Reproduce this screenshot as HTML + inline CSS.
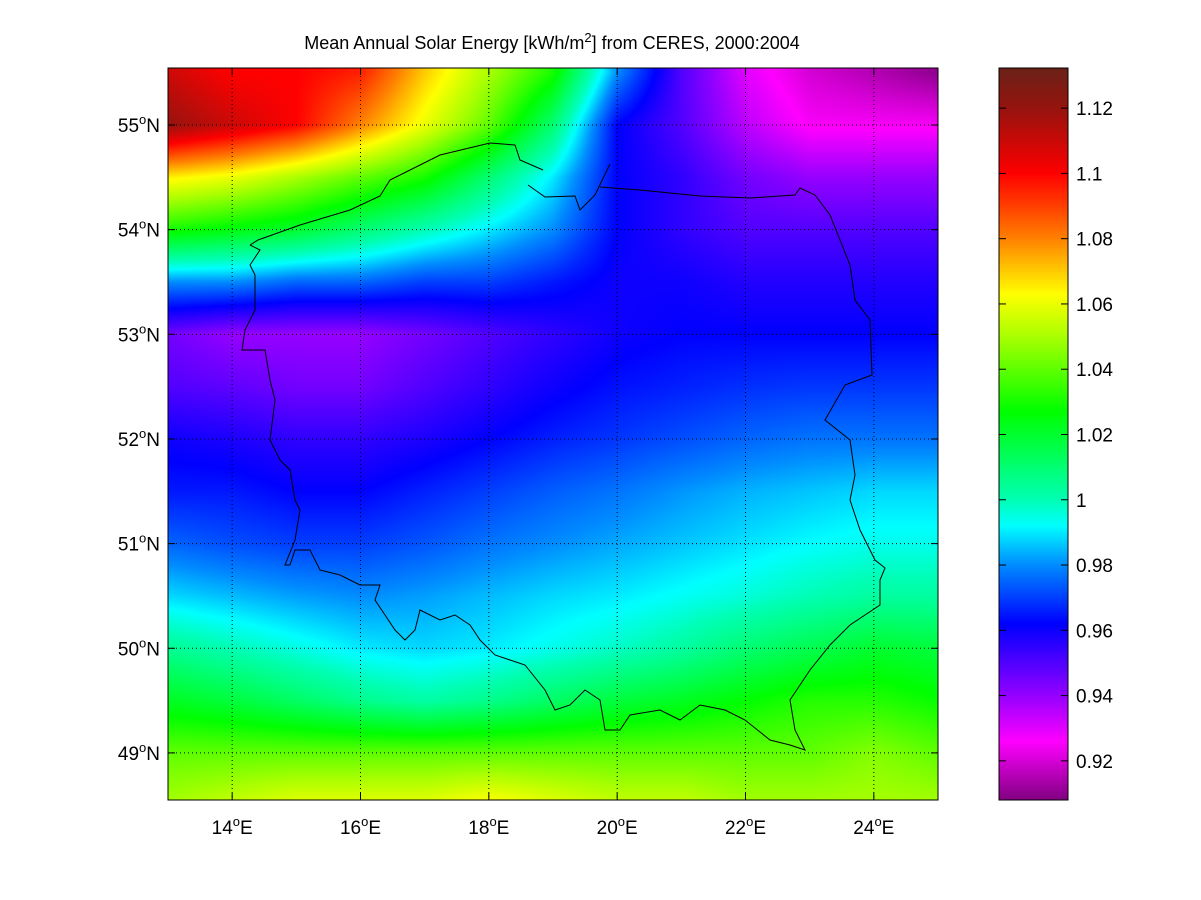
<!DOCTYPE html>
<html><head><meta charset="utf-8">
<style>
body{margin:0;background:#fff;width:1201px;height:900px;overflow:hidden;font-family:"Liberation Sans",sans-serif;}
#wrap{position:relative;width:1201px;height:900px;}
canvas{position:absolute;}
svg{position:absolute;left:0;top:0;}
text{font-family:"Liberation Sans",sans-serif;fill:#000;}
</style></head>
<body>
<div id="wrap">
<canvas id="map" width="770" height="732" style="left:168px;top:68px"></canvas>
<canvas id="cbar" width="69" height="732" style="left:999px;top:68px"></canvas>
<svg id="ov" width="1201" height="900"></svg>
</div>
<script>
const lons=[13,14,15,16,17,18,19,20,21,22,23,24,25];
const lats=[55.5,55,54.5,54,53.5,53,52.5,52,51.5,51,50.5,50,49.5,49,48.5];
const values=[
[1.11,1.10,1.10,1.095,1.07,1.05,1.03,0.98,0.95,0.93,0.92,0.915,0.91],
[1.12,1.11,1.10,1.08,1.06,1.04,1.01,0.962,0.95,0.935,0.925,0.925,0.925],
[1.065,1.06,1.05,1.04,1.03,1.01,0.99,0.962,0.955,0.945,0.94,0.94,0.94],
[1.03,1.025,1.02,1.01,1.0,0.99,0.98,0.962,0.955,0.95,0.95,0.95,0.95],
[0.98,0.98,0.975,0.975,0.97,0.97,0.965,0.96,0.96,0.957,0.957,0.957,0.957],
[0.945,0.94,0.94,0.94,0.945,0.95,0.955,0.96,0.962,0.962,0.962,0.962,0.962],
[0.95,0.948,0.945,0.945,0.95,0.955,0.96,0.964,0.966,0.968,0.969,0.969,0.969],
[0.96,0.958,0.955,0.955,0.958,0.962,0.966,0.969,0.972,0.975,0.977,0.977,0.977],
[0.965,0.965,0.962,0.962,0.966,0.97,0.974,0.977,0.981,0.984,0.986,0.988,0.988],
[0.975,0.972,0.97,0.97,0.973,0.977,0.98,0.983,0.986,0.989,0.992,0.994,0.994],
[0.988,0.985,0.982,0.98,0.982,0.985,0.988,0.99,0.993,0.996,1.0,1.003,1.003],
[1.005,1.0,0.995,0.99,0.988,0.99,0.994,0.998,1.003,1.01,1.015,1.02,1.018],
[1.022,1.018,1.012,1.006,1.002,1.006,1.012,1.018,1.022,1.027,1.032,1.032,1.028],
[1.04,1.04,1.04,1.04,1.04,1.04,1.04,1.04,1.04,1.04,1.04,1.045,1.04],
[1.05,1.055,1.06,1.06,1.06,1.065,1.06,1.055,1.055,1.05,1.05,1.05,1.05]];
const cbTicks=[0.92,0.94,0.96,0.98,1,1.02,1.04,1.06,1.08,1.1,1.12];
const lonTicks=[14,16,18,20,22,24];
const latTicks=[49,50,51,52,53,54,55];
const stops=[[0.908,130,0,130],[0.926,255,0,255],[0.94,150,0,255],[0.962,0,0,255],[0.98,0,140,255],[0.992,0,255,255],[1.0,0,255,180],[1.027,0,255,0],[1.05,170,255,0],[1.063,255,255,0],[1.08,255,130,0],[1.10,255,0,0],[1.12,150,20,15],[1.133,105,35,25]];
const X0=168,X1=938,Y0=68,Y1=800,LON0=13,LON1=25,LAT1=55.545,LAT0=48.55;
const VMIN=0.908,VMAX=1.1323;
const xs=l=>X0+(l-LON0)/(LON1-LON0)*(X1-X0);
const ys=a=>Y0+(LAT1-a)/(LAT1-LAT0)*(Y1-Y0);
function cmap(v){
  if(v<=stops[0][0])return stops[0].slice(1);
  for(let i=1;i<stops.length;i++){if(v<=stops[i][0]){const a=stops[i-1],b=stops[i],t=(v-a[0])/(b[0]-a[0]);return [a[1]+t*(b[1]-a[1]),a[2]+t*(b[2]-a[2]),a[3]+t*(b[3]-a[3])];}}
  return stops[stops.length-1].slice(1);
}
function sample(lon,lat){
  let fi=(lon-lons[0])/(lons[1]-lons[0]);fi=Math.max(0,Math.min(lons.length-1.0001,fi));
  let fj=(lats[0]-lat)/(lats[0]-lats[1]);fj=Math.max(0,Math.min(lats.length-1.0001,fj));
  const i=Math.floor(fi),j=Math.floor(fj),u=fi-i,w=fj-j;
  const a=values[j][i],b=values[j][i+1],c=values[j+1][i],d=values[j+1][i+1];
  return (a*(1-u)+b*u)*(1-w)+(c*(1-u)+d*u)*w;
}
(function(){
  const cv=document.getElementById('map'),ctx=cv.getContext('2d'),W=cv.width,H=cv.height;
  const img=ctx.createImageData(W,H);
  for(let y=0;y<H;y++){const lat=LAT1-(y+0.5)/H*(LAT1-LAT0);
    for(let x=0;x<W;x++){const lon=LON0+(x+0.5)/W*(LON1-LON0);
      const c=cmap(sample(lon,lat)),k=(y*W+x)*4;img.data[k]=c[0];img.data[k+1]=c[1];img.data[k+2]=c[2];img.data[k+3]=255;}}
  ctx.putImageData(img,0,0);
  const cb=document.getElementById('cbar'),cc=cb.getContext('2d');
  for(let y=0;y<cb.height;y++){const v=VMAX-(y+0.5)/cb.height*(VMAX-VMIN);const c=cmap(v);cc.fillStyle=`rgb(${c[0]|0},${c[1]|0},${c[2]|0})`;cc.fillRect(0,y,cb.width,1);}
})();
const NS='http://www.w3.org/2000/svg',ov=document.getElementById('ov');
function mk(t,attrs,txt){const e=document.createElementNS(NS,t);for(const k in attrs)e.setAttribute(k,attrs[k]);if(txt!==undefined)e.textContent=txt;ov.appendChild(e);return e;}
const outline=mk('path',{d:"M250,245 L258,240 L300,225 L350,210 L380,196 L390,180 L440,155 L490,143 L515,145 L520,160 L543,170 M528,185 L545,197 L575,196 L580,210 L595,195 L610,164 M600,187 L640,190 L700,196 L750,198 L795,195 L800,188 L815,195 L830,215 L840,240 L850,265 L855,300 L870,320 L872,375 L845,385 L825,420 L850,440 L855,475 L850,500 L860,530 L875,560 L885,568 L880,580 L880,605 L850,625 L830,645 L810,670 L790,700 L795,730 L805,750 L790,745 L770,740 L745,720 L725,710 L700,705 L680,720 L660,710 L630,715 L620,730 L605,730 L600,700 L585,690 L570,705 L555,710 L545,690 L525,665 L495,655 L480,640 L470,625 L455,615 L440,620 L420,610 L415,630 L405,640 L395,630 L385,615 L375,600 L380,585 L360,585 L340,575 L320,570 L310,550 L295,550 L290,565 L285,565 L295,540 L300,510 L295,500 L290,470 L280,460 L270,440 L275,400 L270,380 L265,350 L242,350 L245,330 L255,310 L255,275 L250,265 L260,250 L250,245",fill:"none",stroke:"#000","stroke-width":"1"});


lonTicks.forEach(l=>{const x=xs(l);
  const g=mk('line',{x1:x,y1:Y0,x2:x,y2:Y1,stroke:"#000","stroke-dasharray":"1,3","stroke-width":"1"});
  
  
  mk('line',{x1:x,y1:Y1,x2:x,y2:Y1-7,stroke:"#000"});mk('line',{x1:x,y1:Y0,x2:x,y2:Y0+7,stroke:"#000"});
  const t=mk('text',{x:x,y:834,"font-size":"19","text-anchor":"middle"});
  t.innerHTML=l+'<tspan dy="-8" font-size="13">o</tspan><tspan dy="8">E</tspan>';
  
  
});
latTicks.forEach(a=>{const y=ys(a);
  const g=mk('line',{x1:X0,y1:y,x2:X1,y2:y,stroke:"#000","stroke-dasharray":"1,3","stroke-width":"1"});
  
  
  mk('line',{x1:X0,y1:y,x2:X0+7,y2:y,stroke:"#000"});mk('line',{x1:X1,y1:y,x2:X1-7,y2:y,stroke:"#000"});
  const t=mk('text',{x:160,y:y+7,"font-size":"19","text-anchor":"end"});
  t.innerHTML=a+'<tspan dy="-8" font-size="13">o</tspan><tspan dy="8">N</tspan>';
  
  
});
mk('rect',{x:X0,y:Y0,width:X1-X0,height:Y1-Y0,fill:"none",stroke:"#000"});
const cbY=v=>Y0+(VMAX-v)/(VMAX-VMIN)*(Y1-Y0);
cbTicks.forEach(v=>{const y=cbY(v);
  mk('line',{x1:999,y1:y,x2:1006,y2:y,stroke:"#000"});mk('line',{x1:1068,y1:y,x2:1061,y2:y,stroke:"#000"});
  const t=mk('text',{x:1076,y:y+7,"font-size":"19"},String(v));
  
  
});
mk('rect',{x:999,y:Y0,width:69,height:Y1-Y0,fill:"none",stroke:"#000"});
const title=mk('text',{x:552,y:49,"font-size":"18","text-anchor":"middle"});
title.innerHTML='Mean Annual Solar Energy [kWh/m<tspan dy="-7" font-size="13">2</tspan><tspan dy="7">] from CERES, 2000:2004</tspan>';


</script>
</body></html>
